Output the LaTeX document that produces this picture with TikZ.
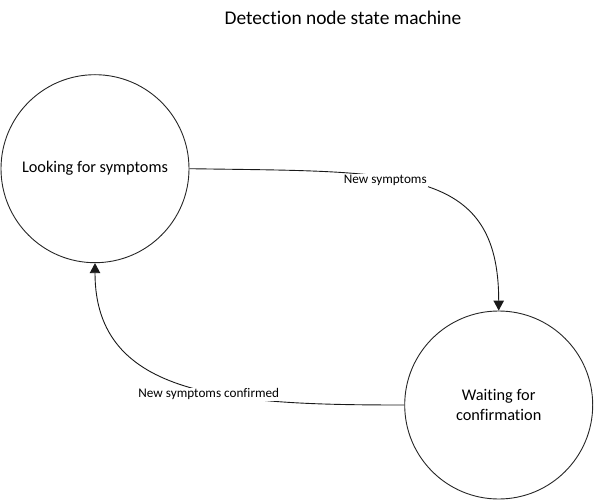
\documentclass[tikz,border=0pt]{standalone}
\usepackage{fontspec}
\setmainfont{Carlito}[Ligatures={NoCommon,NoContextual}]
\usetikzlibrary{arrows.meta}
\begin{document}
\begin{tikzpicture}[x=1pt,y=-1pt,
  state/.style={circle, draw=black!85, line width=0.9pt, minimum size=188pt, inner sep=0pt, align=center, font=\fontsize{16.3}{19.3}\selectfont},
  conn/.style={draw=black!90, line width=0.9pt, -{Triangle[length=10pt,width=10.5pt]}},
  elabel/.style={fill=white, inner sep=1pt, font=\fontsize{13.2}{15}\selectfont},
  title/.style={font=\fontsize{19.4}{22}\selectfont}]
\useasboundingbox (0,0) rectangle (594,500);
\node[title, anchor=base] (title) at (343,25) {Detection node state machine};
\node[state] (look) at (95,168.7) {Looking for symptoms};
\node[state] (wait) at (498.7,405) {Waiting for\\confirmation};
\draw[conn] (look.east) .. controls (400,172) and (498.7,165) .. (wait.north);
\draw[conn] (wait.west) .. controls (230,405) and (95,398) .. (look.south);
\node[elabel, anchor=base] (l1) at (385.3,183.7) {New symptoms};
\node[elabel, anchor=base] (l2) at (208.8,397.7) {New symptoms confirmed};
\end{tikzpicture}
\end{document}
